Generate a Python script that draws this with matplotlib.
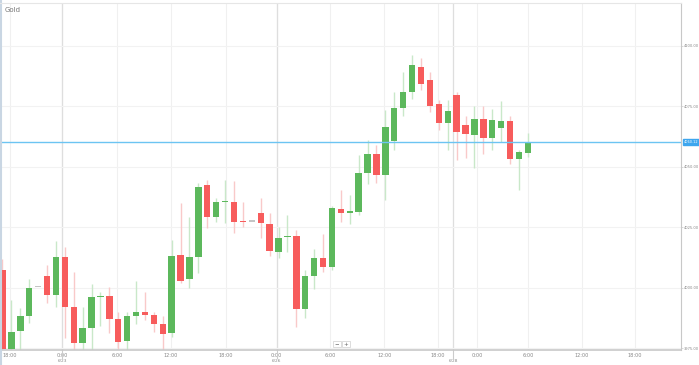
import matplotlib.pyplot as plt
from matplotlib.patches import Rectangle
import matplotlib.transforms as mtransforms

# hourly candles
opens = [4007.2, 3974.5, 3982.0, 3988.2, 4000.2, 4004.8, 3996.9, 4012.7, 3992.1, 3977.2,
         3983.3, 3996.0, 3996.6, 3986.9, 3978.0, 3988.3, 3989.8, 3988.8, 3984.8, 3981.1,
         4013.3, 4003.4, 4012.5, 4042.4, 4029.0, 4035.2, 4035.5, 4027.6, 4027.2, 4030.9,
         4026.2, 4014.8, 4020.7, 4021.3, 3991.0, 4004.8, 4012.1, 4008.6, 4032.3, 4030.9,
         4031.3, 4047.4, 4055.2, 4046.5, 4060.5, 4074.2, 4080.8, 4091.0, 4085.7, 4076.0,
         4068.0, 4079.5, 4067.0, 4063.0, 4069.6, 4061.8, 4066.0, 4069.0, 4053.0, 4055.5]
highs = [4012.0, 3994.8, 3991.5, 4003.5, 4000.2, 4009.3, 4019.3, 4016.9, 4006.4, 3991.9,
         4001.4, 3998.3, 4000.3, 3989.9, 3990.0, 4002.7, 3998.3, 3989.8, 3988.3, 4019.6,
         4034.8, 4029.3, 4043.1, 4044.4, 4037.1, 4044.4, 4044.1, 4035.5, 4027.2, 4036.9,
         4030.9, 4024.9, 4030.0, 4023.8, 4007.2, 4015.9, 4022.0, 4033.7, 4040.3, 4038.2,
         4054.8, 4061.0, 4059.0, 4073.3, 4081.0, 4089.0, 4096.0, 4095.0, 4089.0, 4077.5,
         4077.5, 4081.0, 4071.0, 4075.0, 4075.0, 4074.0, 4077.0, 4071.0, 4057.0, 4064.0]
lows = [3972.0, 3972.0, 3974.2, 3985.3, 4000.2, 3993.6, 3992.1, 3979.1, 3973.0, 3974.2,
        3974.0, 3984.2, 3981.1, 3974.6, 3974.0, 3984.9, 3986.6, 3981.7, 3974.0, 3979.7,
        4001.7, 3999.7, 4005.9, 4024.5, 4027.2, 4026.5, 4022.6, 4024.9, 4027.2, 4020.3,
        4013.0, 4012.1, 4014.8, 3983.6, 3987.3, 3999.3, 4006.3, 4007.2, 4027.2, 4026.2,
        4030.0, 4042.8, 4043.2, 4036.2, 4057.0, 4071.0, 4078.0, 4081.6, 4072.5, 4065.0,
        4057.0, 4052.7, 4053.5, 4049.4, 4055.0, 4057.0, 4060.0, 4051.0, 4040.3, 4054.0]
closes = [3974.5, 3981.6, 3988.3, 3999.8, 4000.2, 3996.9, 4012.7, 3992.1, 3977.2, 3983.3,
          3996.1, 3996.6, 3986.9, 3977.6, 3988.3, 3989.8, 3988.8, 3984.8, 3980.8, 4013.0,
          4002.7, 4012.5, 4041.7, 4029.0, 4035.2, 4035.4, 4027.2, 4027.1, 4027.2, 4026.8,
          4015.1, 4020.6, 4021.3, 3991.0, 4004.8, 4012.1, 4008.3, 4032.7, 4030.9, 4031.6,
          4047.4, 4055.0, 4046.5, 4066.3, 4074.2, 4080.8, 4092.0, 4084.0, 4075.0, 4068.0,
          4073.0, 4064.3, 4063.4, 4069.6, 4061.8, 4069.2, 4069.0, 4053.0, 4056.0, 4060.0]

last_price = 4060.12
y_ticks = [3975, 4000, 4025, 4050, 4075, 4100]

time_pos = [0.8, 6.7, 12.9, 18.9, 25.1, 30.8, 36.8, 42.9, 48.9, 53.3, 59.0, 65.1, 71.0]
time_labels = ['18:00', '0:00', '6:00', '12:00', '18:00', '0:00', '6:00', '12:00',
               '18:00', '0:00', '6:00', '12:00', '18:00']
day_pos = [6.7, 30.8, 50.6]
day_labels = ['6/23', '6/26', '6/28']

GREEN = '#5cb85c'
RED = '#f75c5c'
GREEN_W = '#c9e8c9'
RED_W = '#f9c9c9'
GRAY = '#c4c4c4'

YMIN, YMAX = 3974.2, 4117.6

fig = plt.figure(figsize=(6.99, 3.65), dpi=100)
ax = fig.add_axes([0, 15 / 365, 681 / 699, 347 / 365])

ax.set_xlim(-0.28, 76.2)
ax.set_ylim(YMIN, YMAX)

# grid
for p in time_pos:
    ax.axvline(p, color='#f0f0f0', lw=0.8, zorder=0)
for p in day_pos:
    ax.axvline(p, color='#dedede', lw=0.9, zorder=0)
for t in y_ticks:
    ax.axhline(t, color='#f2f2f2', lw=0.8, zorder=0)

# candles
w = 0.72
for i in range(len(opens)):
    o, h, l, c = opens[i], highs[i], lows[i], closes[i]
    if abs(c - o) < 0.05:
        col, wcol = GRAY, GRAY
    elif c > o:
        col, wcol = GREEN, GREEN_W
    else:
        col, wcol = RED, RED_W
    ax.vlines(i, l, h, color=wcol, lw=1.0, zorder=2)
    bottom = min(o, c)
    height = max(abs(c - o), 0.6)
    ax.add_patch(Rectangle((i - w / 2, bottom), w, height, facecolor=col,
                           edgecolor='none', zorder=3))

# current price line
ax.axhline(last_price, color='#6cc4f2', lw=1.0, zorder=4)

# axes styling
for s in ['top', 'left']:
    ax.spines[s].set_visible(False)
ax.spines['right'].set_color('#c8c8c8')
ax.spines['bottom'].set_color('#c8c8c8')
ax.spines['bottom'].set_linewidth(1.2)

ax.yaxis.tick_right()
ax.set_yticks(y_ticks)
ax.set_yticklabels(['%.2f' % t for t in y_ticks], fontsize=2.6, color='#888888')
ax.tick_params(axis='y', length=1.2, width=0.5, color='#c8c8c8', pad=0.5)

ax.set_xticks(time_pos)
ax.set_xticklabels(time_labels, fontsize=3.6, color='#888888')
ax.tick_params(axis='x', length=0, pad=2)

trans = mtransforms.blended_transform_factory(ax.transData, ax.transAxes)
for p, lab in zip(day_pos, day_labels):
    ax.plot([p, p], [0, -0.022], color='#cccccc', lw=0.8, transform=trans, clip_on=False)
    ax.text(p, -0.031, lab, fontsize=3.1, color='#888888', ha='center', va='center',
            transform=trans)

# price tag on the right axis
ax.text(1.0035, (last_price - YMIN) / (YMAX - YMIN), '%.2f' % last_price,
        transform=ax.transAxes, fontsize=2.5, color='white', ha='left', va='center',
        bbox=dict(boxstyle='square,pad=0.25', facecolor='#3ea6ee', edgecolor='#3ea6ee'))

# title
fig.text(5 / 699, 1 - 10 / 365, 'Gold', fontsize=5, color='#777777', ha='left', va='center')

# zoom buttons
for k, sym in enumerate(['\u2212', '+']):
    x0 = 333 + k * 9
    fig.patches.append(Rectangle((x0 / 699, 1 - 347 / 365), 8 / 699, 6 / 365,
                                 transform=fig.transFigure, facecolor='white',
                                 edgecolor='#cfcfcf', lw=0.5))
    fig.text((x0 + 4) / 699, 1 - 344 / 365, sym, fontsize=4, color='#666666',
             ha='center', va='center')

# left border
fig.add_artist(plt.Line2D([0.5 / 699, 0.5 / 699], [0, 1], color='#c9d6e3', lw=1.5,
                          transform=fig.transFigure))
# top border
fig.add_artist(plt.Line2D([0, 681 / 699], [1 - 3 / 365, 1 - 3 / 365], color='#e6e6e6',
                          lw=0.8, transform=fig.transFigure))

fig.savefig('out.png', dpi=100, facecolor='white')
